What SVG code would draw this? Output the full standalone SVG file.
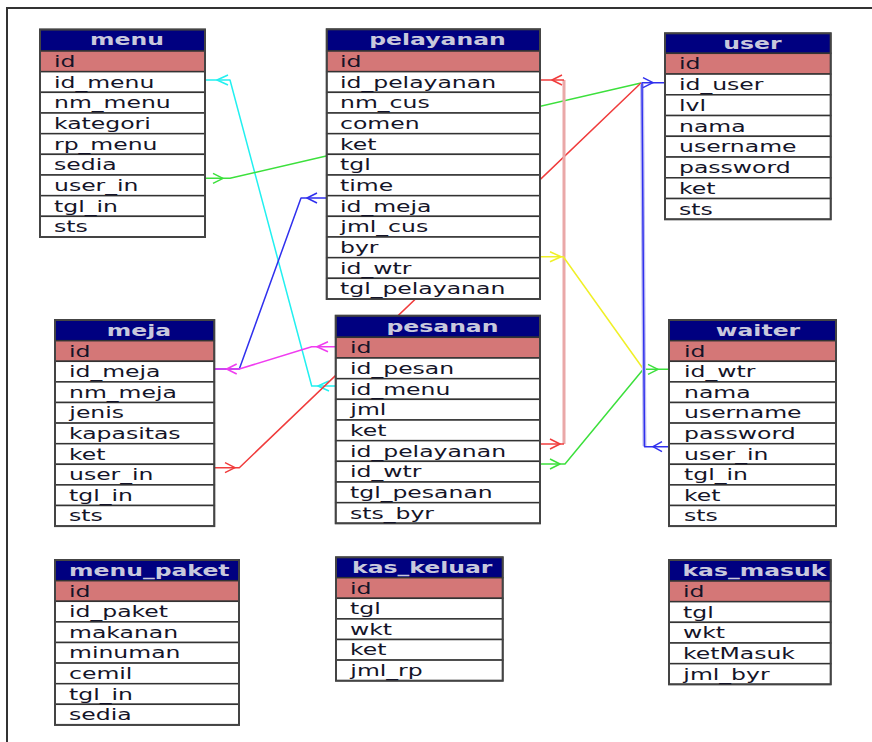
<svg xmlns="http://www.w3.org/2000/svg" width="872" height="742" viewBox="0 0 872 742">
<style>
.bg{fill:#fff}
.frame{fill:none;stroke:#333;stroke-width:2}
.hd{fill:#000080;stroke:#333;stroke-width:1.5}
.k{fill:#d47777;stroke:#333;stroke-width:1.5}
.c{fill:#fff;stroke:#333;stroke-width:1.5}
.o{fill:none;stroke:#444;stroke-width:2}
.f{font-family:"DejaVu Sans",Verdana,sans-serif;font-size:16px;fill:#141428;transform-box:fill-box;transform-origin:0 0;transform:scaleX(1.47)}
.h{font-family:"DejaVu Sans",Verdana,sans-serif;font-size:16px;font-weight:bold;fill:#c8c8dc;text-anchor:middle;transform-box:fill-box;transform-origin:50% 0;transform:scaleX(1.47)}
.hl{text-anchor:start;transform-origin:0 0}
.ln{fill:none;stroke-width:1.5;stroke-linejoin:round}
.cy{stroke:#22f0f0}.gr{stroke:#3ce03c}.rd{stroke:#f03c3c}.mg{stroke:#f03cf0}.bl{stroke:#3030ee}.ye{stroke:#f0f028}
.pk{fill:none;stroke:#eaa8a8;stroke-width:3}
.lv{fill:none;stroke:#c0c0f2;stroke-width:4}
</style>
<rect class="bg" x="0" y="0" width="872" height="742"/>
<path class="frame" d="M7,742 V8 H872"/>

<g id="connectors">
  <!-- menu.id_menu - pesanan.id_menu -->
  <polyline class="ln cy" points="205,80 230,80 311.7,386 335.7,386"/>
  <polyline class="ln cy" points="228,75 217,80 228,85"/>
  <polyline class="ln cy" points="329,381 318,386 329,391"/>
  <!-- menu.user_in - user.id_user -->
  <polyline class="ln gr" points="205,178.3 230,178.3 641,83"/>
  <polyline class="ln gr" points="213,173.3 223,178.3 213,183.3"/>
  <!-- meja.user_in - user.id_user -->
  <polyline class="ln rd" points="214.3,467.7 239.3,467.7 641,83"/>
  <polyline class="ln rd" points="225,462.7 235,467.7 225,472.7"/>
  <!-- meja.id_meja - pelayanan.id_meja -->
  <polyline class="ln bl" points="214.3,369 239.3,369 301,198 326.7,198"/>
  <polyline class="ln bl" points="317,193 307,198 317,203"/>
  <!-- meja.id_meja - pesanan.id -->
  <polyline class="ln mg" points="214.3,369 239.3,369 311.7,346.7 335.7,346.7"/>
  <polyline class="ln mg" points="236.7,364 226.7,369 236.7,374"/>
  <polyline class="ln mg" points="328,341.7 317,346.7 328,351.7"/>
  <!-- pelayanan.id_pelayanan - pesanan.id_pelayanan -->
  <path class="pk" d="M564,80 V444"/>
  <polyline class="ln rd" points="540,80 564,80"/>
  <polyline class="ln rd" points="564,444 540,444"/>
  <polyline class="ln rd" points="562,75 552,80 562,85"/>
  <polyline class="ln rd" points="550,439 560,444 550,449"/>
  <!-- pelayanan.id_wtr - waiter.id_wtr -->
  <polyline class="ln ye" points="540,256.7 563.3,256.7 643.3,369"/>
  <polyline class="ln ye" points="550,251.7 561,256.7 550,261.7"/>
  <!-- pesanan.id_wtr - waiter.id_wtr -->
  <polyline class="ln gr" points="540,464 565,464 643.3,369.3 669,369.3"/>
  <polyline class="ln gr" points="550,459 560,464 550,469"/>
  <polyline class="ln gr" points="648,364.3 658,369.3 648,374.3"/>
  <!-- user.id_user - waiter.user_in -->
  <path class="lv" d="M642,84 L644.5,446"/>
  <polyline class="ln bl" points="665,82.7 642,82.7 644.5,446.7 669,446.7"/>
  <polyline class="ln bl" points="643,77.7 653,82.7 643,87.7"/>
  <polyline class="ln bl" points="662,441.7 653,446.7 662,451.7"/>
</g>

<g id="menu">
  <rect class="hd" x="40" y="29.5" width="165" height="21.5"/>
  <rect class="k" x="40" y="51" width="165" height="20.67"/>
  <rect class="c" x="40" y="71.67" width="165" height="20.67"/>
  <rect class="c" x="40" y="92.33" width="165" height="20.67"/>
  <rect class="c" x="40" y="113" width="165" height="20.67"/>
  <rect class="c" x="40" y="133.67" width="165" height="20.67"/>
  <rect class="c" x="40" y="154.33" width="165" height="20.67"/>
  <rect class="c" x="40" y="175" width="165" height="20.67"/>
  <rect class="c" x="40" y="195.67" width="165" height="20.67"/>
  <rect class="c" x="40" y="216.33" width="165" height="20.67"/>
  <rect class="o" x="40" y="29.5" width="165" height="207.5"/>
  <text class="h" x="127" y="45.5">menu</text>
  <text class="f" x="54" y="67">id</text>
  <text class="f" x="54" y="87.67">id_menu</text>
  <text class="f" x="54" y="108.33">nm_menu</text>
  <text class="f" x="54" y="129">kategori</text>
  <text class="f" x="54" y="149.67">rp_menu</text>
  <text class="f" x="54" y="170.33">sedia</text>
  <text class="f" x="54" y="191">user_in</text>
  <text class="f" x="54" y="211.67">tgl_in</text>
  <text class="f" x="54" y="232.33">sts</text>
</g>

<g id="pelayanan">
  <rect class="hd" x="326.7" y="29.3" width="213.3" height="21.7"/>
  <rect class="k" x="326.7" y="51" width="213.3" height="20.67"/>
  <rect class="c" x="326.7" y="71.67" width="213.3" height="20.67"/>
  <rect class="c" x="326.7" y="92.33" width="213.3" height="20.67"/>
  <rect class="c" x="326.7" y="113" width="213.3" height="20.67"/>
  <rect class="c" x="326.7" y="133.67" width="213.3" height="20.67"/>
  <rect class="c" x="326.7" y="154.33" width="213.3" height="20.67"/>
  <rect class="c" x="326.7" y="175" width="213.3" height="20.67"/>
  <rect class="c" x="326.7" y="195.67" width="213.3" height="20.67"/>
  <rect class="c" x="326.7" y="216.33" width="213.3" height="20.67"/>
  <rect class="c" x="326.7" y="237" width="213.3" height="20.67"/>
  <rect class="c" x="326.7" y="257.67" width="213.3" height="20.67"/>
  <rect class="c" x="326.7" y="278.33" width="213.3" height="20.67"/>
  <rect class="o" x="326.7" y="29.3" width="213.3" height="269.7"/>
  <text class="h" x="437.5" y="45.5">pelayanan</text>
  <text class="f" x="340" y="67">id</text>
  <text class="f" x="340" y="87.67">id_pelayanan</text>
  <text class="f" x="340" y="108.33">nm_cus</text>
  <text class="f" x="340" y="129">comen</text>
  <text class="f" x="340" y="149.67">ket</text>
  <text class="f" x="340" y="170.33">tgl</text>
  <text class="f" x="340" y="191">time</text>
  <text class="f" x="340" y="211.67">id_meja</text>
  <text class="f" x="340" y="232.33">jml_cus</text>
  <text class="f" x="340" y="253">byr</text>
  <text class="f" x="340" y="273.67">id_wtr</text>
  <text class="f" x="340" y="294.33">tgl_pelayanan</text>
</g>

<g id="user">
  <rect class="hd" x="665" y="33.3" width="165.7" height="20"/>
  <rect class="k" x="665" y="53.3" width="165.7" height="20.75"/>
  <rect class="c" x="665" y="74.05" width="165.7" height="20.75"/>
  <rect class="c" x="665" y="94.8" width="165.7" height="20.75"/>
  <rect class="c" x="665" y="115.55" width="165.7" height="20.75"/>
  <rect class="c" x="665" y="136.3" width="165.7" height="20.75"/>
  <rect class="c" x="665" y="157.05" width="165.7" height="20.75"/>
  <rect class="c" x="665" y="177.8" width="165.7" height="20.75"/>
  <rect class="c" x="665" y="198.55" width="165.7" height="20.75"/>
  <rect class="o" x="665" y="33.3" width="165.7" height="186"/>
  <text class="h" x="752.5" y="49">user</text>
  <text class="f" x="679" y="69.3">id</text>
  <text class="f" x="679" y="90.05">id_user</text>
  <text class="f" x="679" y="110.8">lvl</text>
  <text class="f" x="679" y="131.55">nama</text>
  <text class="f" x="679" y="152.3">username</text>
  <text class="f" x="679" y="173.05">password</text>
  <text class="f" x="679" y="193.8">ket</text>
  <text class="f" x="679" y="214.55">sts</text>
</g>

<g id="meja">
  <rect class="hd" x="55" y="320" width="159.3" height="20.7"/>
  <rect class="k" x="55" y="340.7" width="159.3" height="20.6"/>
  <rect class="c" x="55" y="361.3" width="159.3" height="20.6"/>
  <rect class="c" x="55" y="381.9" width="159.3" height="20.6"/>
  <rect class="c" x="55" y="402.5" width="159.3" height="20.6"/>
  <rect class="c" x="55" y="423.1" width="159.3" height="20.6"/>
  <rect class="c" x="55" y="443.7" width="159.3" height="20.6"/>
  <rect class="c" x="55" y="464.3" width="159.3" height="20.6"/>
  <rect class="c" x="55" y="484.9" width="159.3" height="20.6"/>
  <rect class="c" x="55" y="505.5" width="159.3" height="20.6"/>
  <rect class="o" x="55" y="320" width="159.3" height="206.1"/>
  <text class="h" x="139" y="336">meja</text>
  <text class="f" x="69" y="356.7">id</text>
  <text class="f" x="69" y="377.3">id_meja</text>
  <text class="f" x="69" y="397.9">nm_meja</text>
  <text class="f" x="69" y="418.5">jenis</text>
  <text class="f" x="69" y="439.1">kapasitas</text>
  <text class="f" x="69" y="459.7">ket</text>
  <text class="f" x="69" y="480.3">user_in</text>
  <text class="f" x="69" y="500.9">tgl_in</text>
  <text class="f" x="69" y="521.5">sts</text>
</g>

<g id="pesanan">
  <rect class="hd" x="335.7" y="315.7" width="204.3" height="21.6"/>
  <rect class="k" x="335.7" y="337.3" width="204.3" height="20.67"/>
  <rect class="c" x="335.7" y="358" width="204.3" height="20.67"/>
  <rect class="c" x="335.7" y="378.67" width="204.3" height="20.67"/>
  <rect class="c" x="335.7" y="399.33" width="204.3" height="20.67"/>
  <rect class="c" x="335.7" y="420" width="204.3" height="20.67"/>
  <rect class="c" x="335.7" y="440.67" width="204.3" height="20.67"/>
  <rect class="c" x="335.7" y="461.33" width="204.3" height="20.67"/>
  <rect class="c" x="335.7" y="482" width="204.3" height="20.67"/>
  <rect class="c" x="335.7" y="502.67" width="204.3" height="20.67"/>
  <rect class="o" x="335.7" y="315.7" width="204.3" height="207.6"/>
  <text class="h" x="442.5" y="332">pesanan</text>
  <text class="f" x="350" y="353.3">id</text>
  <text class="f" x="350" y="374">id_pesan</text>
  <text class="f" x="350" y="394.67">id_menu</text>
  <text class="f" x="350" y="415.33">jml</text>
  <text class="f" x="350" y="436">ket</text>
  <text class="f" x="350" y="456.67">id_pelayanan</text>
  <text class="f" x="350" y="477.33">id_wtr</text>
  <text class="f" x="350" y="498">tgl_pesanan</text>
  <text class="f" x="350" y="518.67">sts_byr</text>
</g>

<g id="waiter">
  <rect class="hd" x="669" y="320" width="167" height="20.7"/>
  <rect class="k" x="669" y="340.7" width="167" height="20.6"/>
  <rect class="c" x="669" y="361.3" width="167" height="20.6"/>
  <rect class="c" x="669" y="381.9" width="167" height="20.6"/>
  <rect class="c" x="669" y="402.5" width="167" height="20.6"/>
  <rect class="c" x="669" y="423.1" width="167" height="20.6"/>
  <rect class="c" x="669" y="443.7" width="167" height="20.6"/>
  <rect class="c" x="669" y="464.3" width="167" height="20.6"/>
  <rect class="c" x="669" y="484.9" width="167" height="20.6"/>
  <rect class="c" x="669" y="505.5" width="167" height="20.6"/>
  <rect class="o" x="669" y="320" width="167" height="206.1"/>
  <text class="h" x="758" y="336">waiter</text>
  <text class="f" x="684" y="356.7">id</text>
  <text class="f" x="684" y="377.3">id_wtr</text>
  <text class="f" x="684" y="397.9">nama</text>
  <text class="f" x="684" y="418.5">username</text>
  <text class="f" x="684" y="439.1">password</text>
  <text class="f" x="684" y="459.7">user_in</text>
  <text class="f" x="684" y="480.3">tgl_in</text>
  <text class="f" x="684" y="500.9">ket</text>
  <text class="f" x="684" y="521.5">sts</text>
</g>

<g id="menu_paket">
  <rect class="hd" x="55" y="560" width="184" height="20.7"/>
  <rect class="k" x="55" y="580.7" width="184" height="20.6"/>
  <rect class="c" x="55" y="601.3" width="184" height="20.6"/>
  <rect class="c" x="55" y="621.9" width="184" height="20.6"/>
  <rect class="c" x="55" y="642.5" width="184" height="20.6"/>
  <rect class="c" x="55" y="663.1" width="184" height="20.6"/>
  <rect class="c" x="55" y="683.7" width="184" height="20.6"/>
  <rect class="c" x="55" y="704.3" width="184" height="20.6"/>
  <rect class="o" x="55" y="560" width="184" height="164.9"/>
  <text class="h hl" x="69" y="576">menu_paket</text>
  <text class="f" x="69" y="596.7">id</text>
  <text class="f" x="69" y="617.3">id_paket</text>
  <text class="f" x="69" y="637.9">makanan</text>
  <text class="f" x="69" y="658.5">minuman</text>
  <text class="f" x="69" y="679.1">cemil</text>
  <text class="f" x="69" y="699.7">tgl_in</text>
  <text class="f" x="69" y="720.3">sedia</text>
</g>

<g id="kas_keluar">
  <rect class="hd" x="336" y="557.3" width="166.7" height="20.4"/>
  <rect class="k" x="336" y="577.7" width="166.7" height="20.6"/>
  <rect class="c" x="336" y="598.3" width="166.7" height="20.6"/>
  <rect class="c" x="336" y="618.9" width="166.7" height="20.6"/>
  <rect class="c" x="336" y="639.5" width="166.7" height="20.6"/>
  <rect class="c" x="336" y="660.1" width="166.7" height="20.6"/>
  <rect class="o" x="336" y="557.3" width="166.7" height="123.4"/>
  <text class="h hl" x="352" y="573.3">kas_keluar</text>
  <text class="f" x="350" y="593.7">id</text>
  <text class="f" x="350" y="614.3">tgl</text>
  <text class="f" x="350" y="634.9">wkt</text>
  <text class="f" x="350" y="655.5">ket</text>
  <text class="f" x="350" y="676.1">jml_rp</text>
</g>

<g id="kas_masuk">
  <rect class="hd" x="669" y="560" width="161.7" height="21"/>
  <rect class="k" x="669" y="581" width="161.7" height="20.67"/>
  <rect class="c" x="669" y="601.67" width="161.7" height="20.67"/>
  <rect class="c" x="669" y="622.33" width="161.7" height="20.67"/>
  <rect class="c" x="669" y="643" width="161.7" height="20.67"/>
  <rect class="c" x="669" y="663.67" width="161.7" height="20.67"/>
  <rect class="o" x="669" y="560" width="161.7" height="124.33"/>
  <text class="h hl" x="682.5" y="576.5">kas_masuk</text>
  <text class="f" x="683" y="597">id</text>
  <text class="f" x="683" y="617.67">tgl</text>
  <text class="f" x="683" y="638.33">wkt</text>
  <text class="f" x="683" y="659">ketMasuk</text>
  <text class="f" x="683" y="679.67">jml_byr</text>
</g>
</svg>
